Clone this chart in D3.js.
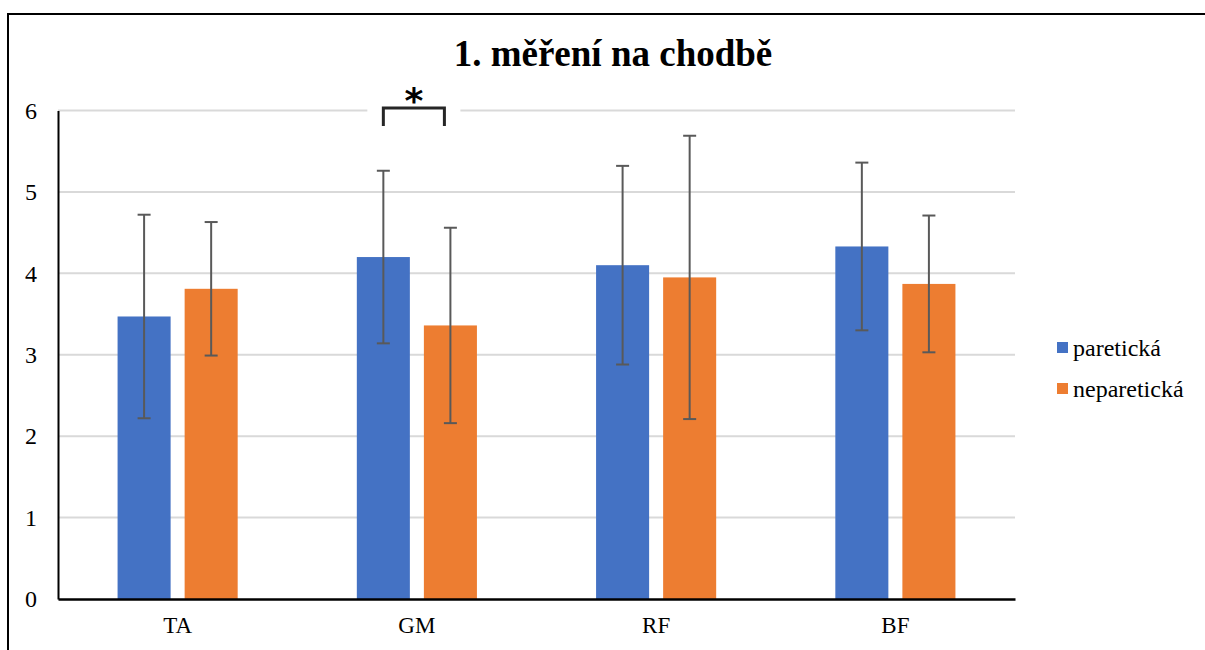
<!DOCTYPE html>
<html>
<head>
<meta charset="utf-8">
<script src="https://cdn.jsdelivr.net/npm/d3@7"></script>
<style>
  html, body { margin: 0; padding: 0; background: #fff; }
  svg { display: block; }
</style>
</head>
<body>
<svg id="chart" width="1205" height="650"></svg>
<script>
// Muscle groups and the two leg series
const categories = ["TA", "GM", "RF", "BF"];
const seriesNames = ["paretická", "neparetická"];
const seriesColors = ["#4472C4", "#ED7D31"];

// Means and standard deviations per muscle
const pareticMeans = [3.47, 4.20, 4.10, 4.33];
const pareticSD = [1.25, 1.06, 1.22, 1.03];
const nonPareticMeans = [3.81, 3.36, 3.95, 3.87];
const nonPareticSD = [0.82, 1.20, 1.74, 0.84];

const yTicks = [0, 1, 2, 3, 4, 5, 6];
const titleText = "1. měření na chodbě";
const significantCategory = "GM";

const rows = categories.map((c, i) => ({
  cat: c,
  values: [
    { s: seriesNames[0], mean: pareticMeans[i], sd: pareticSD[i], color: seriesColors[0] },
    { s: seriesNames[1], mean: nonPareticMeans[i], sd: nonPareticSD[i], color: seriesColors[1] }
  ]
}));

const svg = d3.select("#chart");
const serif = "'Liberation Serif', 'Times New Roman', serif";

const plot = { left: 58, right: 1015, top: 110.5, bottom: 599 };

// Outer frame (top and left edges visible)
svg.append("path")
  .attr("d", "M8,650 L8,14 L1210,14")
  .attr("fill", "none").attr("stroke", "#000").attr("stroke-width", 2);

const x0 = d3.scaleBand().domain(categories).range([plot.left, plot.right]).padding(0);
const x1 = d3.scaleBand().domain(seriesNames)
  .range([x0.bandwidth() * 0.249, x0.bandwidth() * 0.751])
  .paddingInner(0.209).paddingOuter(0);
const y = d3.scaleLinear().domain([0, 6]).range([plot.bottom, plot.top]);

// Gridlines
svg.append("g")
  .selectAll("line").data(yTicks.filter(t => t > 0)).join("line")
  .attr("x1", plot.left).attr("x2", plot.right)
  .attr("y1", d => y(d)).attr("y2", d => y(d))
  .attr("stroke", "#d9d9d9").attr("stroke-width", 2);

// Bars
const groups = svg.append("g").selectAll("g").data(rows).join("g")
  .attr("transform", d => `translate(${x0(d.cat)},0)`);

groups.selectAll("rect").data(d => d.values).join("rect")
  .attr("x", d => x1(d.s))
  .attr("y", d => y(d.mean))
  .attr("width", x1.bandwidth())
  .attr("height", d => y(0) - y(d.mean))
  .attr("fill", d => d.color);

// Error bars
const capHalf = 6.5;
const eb = groups.selectAll("g.err").data(d => d.values).join("g").attr("class", "err")
  .attr("stroke", "#595959").attr("stroke-width", 2);
eb.append("line")
  .attr("x1", d => x1(d.s) + x1.bandwidth() / 2).attr("x2", d => x1(d.s) + x1.bandwidth() / 2)
  .attr("y1", d => y(d.mean + d.sd)).attr("y2", d => y(d.mean - d.sd));
eb.append("line")
  .attr("x1", d => x1(d.s) + x1.bandwidth() / 2 - capHalf).attr("x2", d => x1(d.s) + x1.bandwidth() / 2 + capHalf)
  .attr("y1", d => y(d.mean + d.sd)).attr("y2", d => y(d.mean + d.sd));
eb.append("line")
  .attr("x1", d => x1(d.s) + x1.bandwidth() / 2 - capHalf).attr("x2", d => x1(d.s) + x1.bandwidth() / 2 + capHalf)
  .attr("y1", d => y(d.mean - d.sd)).attr("y2", d => y(d.mean - d.sd));

// Axes
const yAxis = d3.axisLeft(y).tickValues(yTicks).tickSize(0).tickPadding(21).tickFormat(d3.format("d"));
const gy = svg.append("g").attr("transform", `translate(${plot.left},0)`).call(yAxis);
gy.select(".domain").attr("stroke", "#000").attr("stroke-width", 2);
gy.selectAll("text").attr("font-family", serif).attr("font-size", 24).attr("fill", "#000");

const xAxis = d3.axisBottom(x0).tickSize(0).tickPadding(18);
const gx = svg.append("g").attr("transform", `translate(0,${plot.bottom})`).call(xAxis);
gx.select(".domain").attr("stroke", "#000").attr("stroke-width", 2.5);
gx.selectAll("text").attr("font-family", serif).attr("font-size", 23).attr("fill", "#000");

// Significance bracket between the two GM bars
const gmX = x0(significantCategory);
const bx1 = gmX + x1(seriesNames[0]) + x1.bandwidth() / 2;
const bx2 = gmX + x1(seriesNames[1]) + x1.bandwidth() / 2 - 6;
const by = 108, legY = 126;
svg.append("rect")
  .attr("x", bx1 - 16).attr("y", 96).attr("width", bx2 - bx1 + 32).attr("height", 34)
  .attr("fill", "#fff");
svg.append("path")
  .attr("d", `M${bx1},${legY} L${bx1},${by} L${bx2},${by} L${bx2},${legY}`)
  .attr("fill", "none").attr("stroke", "#262626").attr("stroke-width", 3);
svg.append("text")
  .attr("x", (bx1 + bx2) / 2).attr("y", 113)
  .attr("text-anchor", "middle")
  .attr("font-family", "'DejaVu Sans', sans-serif").attr("font-weight", "bold")
  .attr("font-size", 36).attr("fill", "#000")
  .text("*");

// Title
svg.append("text")
  .attr("x", 613).attr("y", 66)
  .attr("text-anchor", "middle")
  .attr("font-family", serif).attr("font-weight", "bold").attr("font-size", 37)
  .attr("fill", "#000")
  .text(titleText);

// Legend
const legend = svg.append("g").selectAll("g").data(seriesNames).join("g")
  .attr("transform", (d, i) => `translate(1057,${342 + i * 41})`);
legend.append("rect").attr("width", 11).attr("height", 11)
  .attr("fill", (d, i) => seriesColors[i]);
legend.append("text")
  .attr("x", 16).attr("y", 14)
  .attr("font-family", serif).attr("font-size", 24).attr("fill", "#000")
  .text(d => d);
</script>
</body>
</html>
